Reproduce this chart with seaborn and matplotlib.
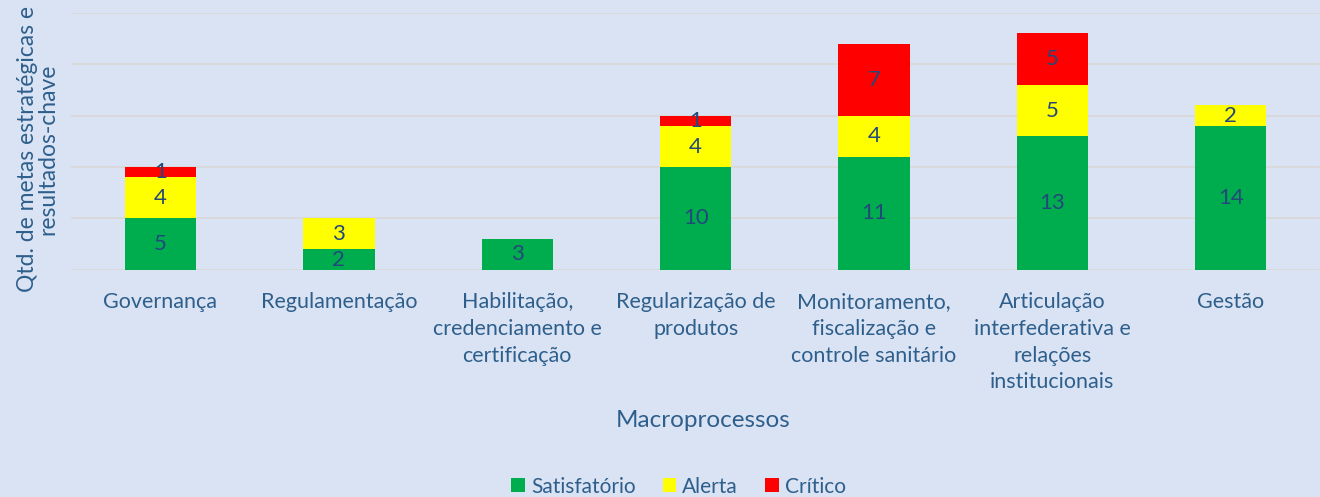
import numpy as np
import pandas as pd
import matplotlib
matplotlib.use("Agg")
import matplotlib.pyplot as plt
import seaborn as sns
from matplotlib.patches import Patch

# --- data ---
categorias = [
    "Governança",
    "Regulamentação",
    "Habilitação,\ncredenciamento e\ncertificação",
    "Regularização de\nprodutos",
    "Monitoramento,\nfiscalização e\ncontrole sanitário",
    "Articulação\ninterfederativa e\nrelações\ninstitucionais",
    "Gestão",
]
satisfatorio = [5, 2, 3, 10, 11, 13, 14]
alerta = [4, 3, 0, 4, 4, 5, 2]
critico = [1, 0, 0, 1, 7, 5, 0]

series = ["Satisfatório", "Alerta", "Crítico"]
cores = {"Satisfatório": "#00AD4E", "Alerta": "#FFFF00", "Crítico": "#FF0000"}

BG = "#DAE3F3"
TXT = "#2E5F8C"
LBL = "#23497A"

sns.set_theme(style="whitegrid")
plt.rcParams["font.family"] = ["Lato", "DejaVu Sans"]

df = pd.DataFrame({
    "cat": categorias,
    "Satisfatório": satisfatorio,
    "Alerta": alerta,
    "Crítico": critico,
})
df["s1"] = df["Satisfatório"]
df["s2"] = df["s1"] + df["Alerta"]
df["s3"] = df["s2"] + df["Crítico"]

fig = plt.figure(figsize=(13.2, 4.97), dpi=100, facecolor=BG)
ax = fig.add_axes([0.054, 0.457, 0.946, 0.517])
ax.set_facecolor(BG)

# layered cumulative bars -> stacked look
for col, nome in [("s3", "Crítico"), ("s2", "Alerta"), ("s1", "Satisfatório")]:
    sns.barplot(data=df, x="cat", y=col, color=cores[nome], width=0.4,
                saturation=1, ax=ax, linewidth=0)

# segment labels
bases = [np.zeros(len(df)), df["s1"].values, df["s2"].values]
for nome, base in zip(series, bases):
    vals = df[nome].values
    for i, (v, b) in enumerate(zip(vals, base)):
        if v > 0:
            ax.text(i, b + v / 2, str(v), ha="center", va="center",
                    fontsize=16, color=LBL)

ax.set_ylim(0, 25)
ax.set_yticks(np.arange(0, 26, 5))
ax.set_yticklabels([])
ax.tick_params(axis="y", length=0)
ax.tick_params(axis="x", length=0, labelsize=15.5, labelcolor=TXT, pad=16)
for t in ax.get_xticklabels():
    t.set_linespacing(1.42)
ax.grid(axis="y", color="#D9D9D9", linewidth=1.3)
ax.grid(axis="x", visible=False)
ax.set_axisbelow(True)
for s in ax.spines.values():
    s.set_visible(False)
ax.set_xlim(-0.5, len(df) - 0.5)

ax.set_xlabel("Macroprocessos", fontsize=17.5, color=TXT)
ax.xaxis.set_label_coords(0.506, -0.545)
ax.set_ylabel("Qtd. de metas estratégicas e\nresultados-chave", fontsize=16.5,
              color=TXT, linespacing=1.0)
ax.yaxis.set_label_coords(-0.01, 0.47)

handles = [Patch(facecolor=cores[n], edgecolor="none", label=n) for n in series]
leg = fig.legend(handles=handles, loc="center", bbox_to_anchor=(0.514, 0.021),
                 ncol=3, frameon=False, fontsize=15, handlelength=0.65,
                 handleheight=0.65, handletextpad=0.3, columnspacing=1.3)
for t in leg.get_texts():
    t.set_color(TXT)

fig.savefig("out.png", dpi=100, facecolor=BG)
